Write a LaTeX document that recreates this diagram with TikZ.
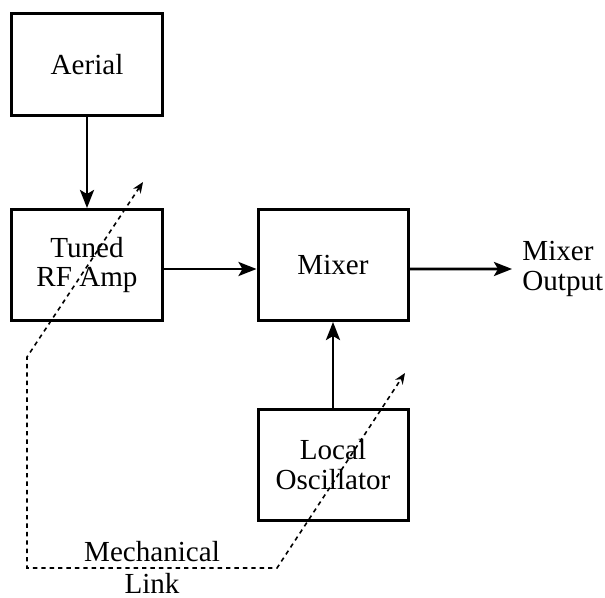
\documentclass[tikz,border=0pt]{standalone}
\usepackage{fontspec}
\setmainfont{Liberation Serif}
\usetikzlibrary{arrows.meta,positioning}
\tikzset{
  box/.style={draw, line width=1.5bp, align=center, minimum width=75bp, minimum height=55.5bp, inner sep=2bp, font=\fontsize{14.6}{15}\selectfont},
  arr/.style={-{Stealth[length=9bp, width=7bp, inset=2bp]}, line width=1.4bp},
  link/.style={{Stealth[length=5.5bp, width=4.5bp]}-{Stealth[length=5.5bp, width=4.5bp]}, line width=0.8bp, dash pattern=on 2.2bp off 2bp},
}
\begin{document}
\begin{tikzpicture}[x=0.5bp, y=-0.5bp, lbl/.style={font=\fontsize{14.6}{15}\selectfont, align=left}]
\useasboundingbox (0,0) rectangle (605,598);
\node[box, minimum height=51bp] (aerial) at (87,64.5) {Aerial};
\node[box] (tuned) at (87,265) {Tuned\\RF Amp};
\node[box] (mixer) at (333,265) {Mixer};
\node[box] (osc) at (333,464.5) {Local\\Oscillator};
\node[lbl, anchor=west, inner sep=5bp] (out) at (512,269) {Mixer\\Output};
\coordinate (tipa) at (143,182);
\coordinate (bend) at (27,357);
\coordinate (cnrl) at (27,568);
\coordinate (cnrr) at (277,568);
\coordinate (tipb) at (405,373);
\draw[arr] (aerial) -- (tuned);
\draw[arr] ([yshift=-2bp]tuned.east) -- ([yshift=-2bp]mixer.west);
\draw[arr] ([yshift=-2bp]mixer.east) -- (out.west);
\draw[arr] (osc) -- (mixer);
\draw[link] (tipa) -- (bend) -- (cnrl) -- node[above, lbl, inner sep=2.5bp]{Mechanical} node[below, lbl, inner sep=2.2bp]{Link} (cnrr) -- (tipb);
\end{tikzpicture}
\end{document}
